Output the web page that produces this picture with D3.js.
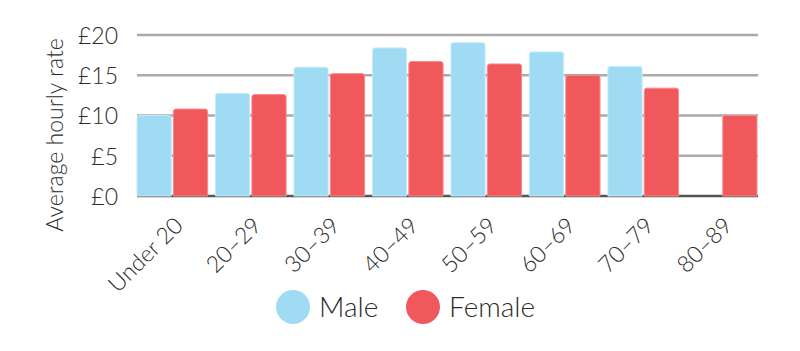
<!DOCTYPE html>
<html>
<head>
<meta charset="utf-8">
<script src="https://cdn.jsdelivr.net/npm/d3@7"></script>
<style>
  body { margin: 0; background: #fff; }
  text { font-family: Lato, "Open Sans", sans-serif; font-weight: 300; fill: #2b2b2b; }
</style>
</head>
<body>
<div id="chart"></div>
<script>
//// data
var ageGroups = ["Under 20", "20–29", "30–39", "40–49", "50–59", "60–69", "70–79", "80–89"];
var seriesNames = ["Male", "Female"];
var maleRate = [10.0, 12.75, 16.0, 18.4, 19.05, 17.9, 16.1, 0];
var femaleRate = [10.8, 12.6, 15.2, 16.7, 16.4, 15.0, 13.4, 10.0];
var yTicks = [0, 5, 10, 15, 20];

var colors = {Male: "#9fdbf3", Female: "#f1585b"};
var strokes = {Male: "#c6ecfa", Female: "#f6898a"};

var width = 800, height = 351;

var svg = d3.select("#chart")
  .append("svg")
    .attr("width", width)
    .attr("height", height);

//// scales
var x0 = d3.scaleBand()
  .domain(ageGroups)
  .range([137, 757])
  .paddingInner(0.1)
  .paddingOuter(0);

var x1 = d3.scaleBand()
  .domain(seriesNames)
  .range([0, x0.bandwidth()])
  .paddingInner(0.06);

var y = d3.scaleLinear()
  .domain([0, 20])
  .range([196, 35]);

//// grid
svg.append("g")
  .selectAll("line")
  .data(yTicks)
  .enter()
  .append("line")
    .attr("x1", 137)
    .attr("x2", 758)
    .attr("y1", d => y(d))
    .attr("y2", d => y(d))
    .attr("stroke", d => d === 0 ? "#555" : "#aaa")
    .attr("stroke-width", 2.3);

//// y axis labels
var yAxis = svg.append("g")
  .attr("transform", "translate(118,0)")
  .call(d3.axisLeft(y)
    .tickValues(yTicks)
    .tickSize(0)
    .tickPadding(0)
    .tickFormat(d => "£" + d));
yAxis.select(".domain").remove();
yAxis.selectAll("text")
  .style("font-size", "23px")
  .attr("fill", "#2b2b2b")
  .attr("dy", "0.36em");

svg.append("text")
  .attr("transform", "translate(63,135) rotate(-90)")
  .attr("text-anchor", "middle")
  .style("font-size", "23px")
  .text("Average hourly rate");

//// bars
var rows = ageGroups.map(function(g, i) {
  return {group: g, values: [
    {name: "Male", value: maleRate[i]},
    {name: "Female", value: femaleRate[i]}
  ]};
});

svg.append("g")
  .selectAll("g")
  .data(rows)
  .enter()
  .append("g")
    .attr("transform", d => "translate(" + x0(d.group) + ",0)")
  .selectAll("path")
  .data(d => d.values.filter(v => v.value > 0))
  .enter()
  .append("path")
    .attr("fill", d => colors[d.name])
    .attr("stroke", d => strokes[d.name])
    .attr("stroke-width", 1)
    .attr("d", function(d) {
      var x = x1(d.name), w = x1.bandwidth();
      var top = y(d.value), bot = y(0), r = 2.5;
      return "M" + x + "," + bot +
        "V" + (top + r) +
        "Q" + x + "," + top + " " + (x + r) + "," + top +
        "H" + (x + w - r) +
        "Q" + (x + w) + "," + top + " " + (x + w) + "," + (top + r) +
        "V" + bot + "Z";
    });

//// x labels
svg.append("g")
  .selectAll("text")
  .data(ageGroups)
  .enter()
  .append("text")
    .attr("text-anchor", "end")
    .attr("transform", d => "translate(" + (x0(d) + x0.bandwidth() / 2 + 12) + ",227) rotate(-45)")
    .style("font-size", "23px")
    .text(d => d);

//// legend
var legend = svg.append("g")
  .selectAll("g")
  .data(seriesNames)
  .enter()
  .append("g")
    .attr("transform", (d, i) => "translate(" + (i === 0 ? 293 : 423) + ",307)");

legend.append("circle")
  .attr("r", 17)
  .attr("fill", d => colors[d]);

legend.append("text")
  .attr("x", 26)
  .attr("dy", "0.36em")
  .style("font-size", "28px")
  .text(d => d);
</script>
</body>
</html>
